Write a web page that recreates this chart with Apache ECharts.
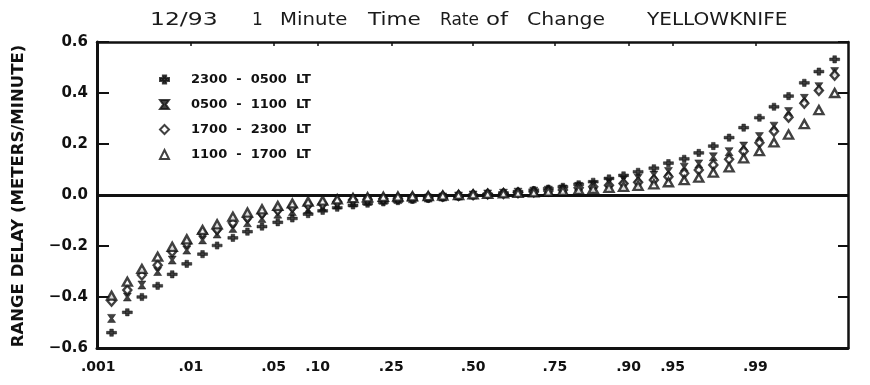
<!DOCTYPE html>
<html>
<head>
<meta charset="utf-8">
<script src="https://cdn.jsdelivr.net/npm/echarts@6/dist/echarts.min.js"></script>
<style>
  html, body { margin: 0; padding: 0; background: #fff; }
  #chart { width: 870px; height: 385px; }
</style>
</head>
<body>
<div id="chart"></div>
<script>
// Time-of-day bands (local time)
const bands = ['2300 - 0500 LT', '0500 - 1100 LT', '1700 - 2300 LT', '1100 - 1700 LT'];

// Cumulative probability ticks on the normal-probability axis
const tickProbs = [0.001, 0.01, 0.05, 0.10, 0.25, 0.50, 0.75, 0.90, 0.95, 0.99, 0.999];
const tickLabels = ['.001', '.01', '.05', '.10', '.25', '.50', '.75', '.90', '.95', '.99', '3 9 9'];

// Plotting positions of the ordered samples, in standard normal units
const normalScore = [
  -2.98, -2.85, -2.73, -2.60, -2.48, -2.36, -2.23, -2.11, -1.98, -1.86,
  -1.74, -1.61, -1.49, -1.36, -1.24, -1.12, -0.99, -0.87, -0.74, -0.62,
  -0.50, -0.37, -0.25, -0.12, 0.00, 0.12, 0.25, 0.37, 0.50, 0.62,
  0.74, 0.87, 0.99, 1.12, 1.24, 1.36, 1.49, 1.61, 1.74, 1.86,
  1.98, 2.11, 2.23, 2.36, 2.48, 2.60, 2.73, 2.85, 2.98
];

// Range-delay rate of change (meters/minute), ordered, per band
const night = [
  -0.540, -0.460, -0.400, -0.356, -0.311, -0.270, -0.232, -0.198, -0.168, -0.144,
  -0.124, -0.107, -0.092, -0.075, -0.062, -0.050, -0.041, -0.034, -0.029, -0.024,
  -0.019, -0.015, -0.010, -0.006, -0.002, 0.003, 0.008, 0.013, 0.019, 0.025,
  0.032, 0.042, 0.052, 0.065, 0.077, 0.091, 0.105, 0.125, 0.142, 0.165,
  0.192, 0.225, 0.264, 0.303, 0.346, 0.388, 0.440, 0.484, 0.532
];
const morning = [
  -0.484, -0.400, -0.353, -0.300, -0.255, -0.216, -0.176, -0.153, -0.131, -0.109,
  -0.092, -0.075, -0.065, -0.056, -0.048, -0.039, -0.031, -0.025, -0.021, -0.018,
  -0.015, -0.012, -0.008, -0.004, 0.000, 0.004, 0.007, 0.011, 0.015, 0.019,
  0.024, 0.034, 0.040, 0.050, 0.060, 0.066, 0.078, 0.092, 0.109, 0.122,
  0.150, 0.170, 0.192, 0.229, 0.270, 0.327, 0.379, 0.425, 0.484
];
const evening = [
  -0.416, -0.373, -0.314, -0.275, -0.222, -0.190, -0.150, -0.135, -0.109, -0.088,
  -0.072, -0.059, -0.048, -0.039, -0.035, -0.027, -0.020, -0.017, -0.015, -0.013,
  -0.010, -0.008, -0.005, -0.002, 0.001, 0.004, 0.006, 0.009, 0.012, 0.016,
  0.020, 0.028, 0.032, 0.038, 0.045, 0.050, 0.059, 0.072, 0.085, 0.098,
  0.118, 0.140, 0.172, 0.205, 0.250, 0.305, 0.360, 0.410, 0.470
];
const afternoon = [
  -0.395, -0.340, -0.290, -0.242, -0.203, -0.174, -0.137, -0.115, -0.085, -0.069,
  -0.056, -0.043, -0.033, -0.026, -0.022, -0.017, -0.012, -0.009, -0.007, -0.006,
  -0.005, -0.004, -0.002, 0.000, 0.002, 0.004, 0.006, 0.008, 0.010, 0.013,
  0.016, 0.020, 0.024, 0.028, 0.032, 0.036, 0.042, 0.050, 0.058, 0.068,
  0.088, 0.108, 0.144, 0.172, 0.206, 0.237, 0.278, 0.333, 0.400
];

// Inverse of the standard normal CDF (Acklam's rational approximation)
function probit(p) {
  const a = [-39.69683028665376, 220.9460984245205, -275.9285104469687, 138.3577518672690, -30.66479806614716, 2.506628277459239];
  const b = [-54.47609879822406, 161.5858368580409, -155.6989798598866, 66.80131188771972, -13.28068155288572];
  const c = [-0.007784894002430293, -0.3223964580411365, -2.400758277161838, -2.549732539343734, 4.374664141464968, 2.938163982698783];
  const d = [0.007784695709041462, 0.3224671290700398, 2.445134137142996, 3.754408661907416];
  const pl = 0.02425;
  let q, r;
  if (p < pl) {
    q = Math.sqrt(-2 * Math.log(p));
    return (((((c[0]*q+c[1])*q+c[2])*q+c[3])*q+c[4])*q+c[5]) / ((((d[0]*q+d[1])*q+d[2])*q+d[3])*q+1);
  }
  if (p > 1 - pl) {
    q = Math.sqrt(-2 * Math.log(1 - p));
    return -(((((c[0]*q+c[1])*q+c[2])*q+c[3])*q+c[4])*q+c[5]) / ((((d[0]*q+d[1])*q+d[2])*q+d[3])*q+1);
  }
  q = p - 0.5; r = q * q;
  return (((((a[0]*r+a[1])*r+a[2])*r+a[3])*r+a[4])*r+a[5])*q / (((((b[0]*r+b[1])*r+b[2])*r+b[3])*r+b[4])*r+1);
}

const tickZ = tickProbs.map(probit);
const labelFor = {};
tickZ.forEach((z, i) => { labelFor[z.toFixed(6)] = tickLabels[i]; });
const innerTickZ = tickZ.slice(1, -1);

const INK = '#111';
const markers = [
  { symbol: 'path://M0,2.8L10,2.8L10,6.2L0,6.2Z M3.2,0L6.8,0L6.8,9L3.2,9Z', size: [10, 8], hollow: false },
  { symbol: 'path://M0,0L10,0L6.5,5L10,10L0,10L3.5,5Z', size: [8, 8], hollow: false },
  { symbol: 'diamond', size: [8, 9], hollow: true },
  { symbol: 'triangle', size: [9, 8], hollow: true }
];
const bandData = [night, morning, evening, afternoon];

const series = bands.map((name, i) => {
  const m = markers[i];
  const s = {
    name: name,
    type: 'scatter',
    symbol: m.symbol,
    symbolSize: m.size,
    symbolKeepAspect: true,
    z: 3 + i,
    itemStyle: m.hollow
      ? { color: '#fff', borderColor: INK, borderWidth: 2.4 }
      : { color: INK, borderColor: INK, borderWidth: 0.6 },
    emphasis: { disabled: true },
    data: normalScore.map((z, k) => [z, bandData[i][k]])
  };
  if (i === 0) {
    s.markLine = {
      silent: true,
      symbol: 'none',
      label: { show: false },
      lineStyle: { color: INK, width: 3, type: 'solid' },
      data: [{ yAxis: 0 }],
      z: 1
    };
  }
  return s;
});

const chart = echarts.init(document.getElementById('chart'), null, { renderer: 'canvas' });

// Title words placed individually to keep the typewriter-like spacing
const titleWords = [
  { t: '12/93', x: 150, sx: 1.38 },
  { t: '1', x: 252, sx: 1.0 },
  { t: 'Minute', x: 280, sx: 1.16 },
  { t: 'Time', x: 368, sx: 1.27 },
  { t: 'Rate', x: 440, sx: 1.0 },
  { t: 'of', x: 486, sx: 1.35 },
  { t: 'Change', x: 527, sx: 1.2 },
  { t: 'YELLOWKNIFE', x: 647, sx: 1.18 }
];

const option = {
  backgroundColor: '#fff',
  animation: false,
  grid: { left: 97, right: 22, top: 42, bottom: 37, containLabel: false },
  legend: {
    orient: 'vertical',
    left: 154,
    top: 67,
    itemWidth: 9,
    itemHeight: 9,
    itemGap: 10,
    selectedMode: false,
    data: bands,
    formatter: name => name.split(' ').join('  '),
    textStyle: {
      color: INK,
      fontFamily: 'DejaVu Sans',
      fontWeight: 'bold',
      fontSize: 13,
      lineHeight: 15,
      padding: [0, 0, 0, 17]
    }
  },
  xAxis: [
    {
      type: 'value',
      position: 'bottom',
      min: -3.10,
      max: 3.09,
      splitLine: { show: false },
      axisLine: { show: true, onZero: false, lineStyle: { color: INK, width: 3 } },
      axisTick: { show: false },
      axisLabel: {
        customValues: tickZ,
        margin: 12,
        color: INK,
        fontFamily: 'DejaVu Sans',
        fontWeight: 'bold',
        fontSize: 14,
        formatter: v => {
          const s = labelFor[Number(v).toFixed(6)] || '';
          return s === '3 9 9' ? '{n|' + s + '}' : s;
        },
        rich: { n: { fontFamily: 'DejaVu Sans', fontWeight: 'normal', fontSize: 14, color: INK } }
      }
    },
    {
      type: 'value',
      position: 'top',
      min: -3.10,
      max: 3.09,
      splitLine: { show: false },
      axisLine: { show: true, onZero: false, lineStyle: { color: INK, width: 2.5 } },
      axisTick: { show: true, inside: true, length: 4, customValues: innerTickZ, lineStyle: { color: INK, width: 1.5 } },
      axisLabel: { show: false }
    }
  ],
  yAxis: [
    {
      type: 'value',
      position: 'left',
      min: -0.6,
      max: 0.6,
      interval: 0.2,
      splitLine: { show: false },
      axisLine: { show: true, onZero: false, lineStyle: { color: INK, width: 3 } },
      axisTick: { show: true, inside: true, length: 12, lineStyle: { color: INK, width: 2 } },
      axisLabel: {
        margin: 9,
        color: INK,
        fontFamily: 'DejaVu Sans',
        fontWeight: 'bold',
        fontSize: 15,
        formatter: v => (v < 0 ? '\u2212' : '') + Math.abs(v).toFixed(1)
      }
    },
    {
      type: 'value',
      position: 'right',
      min: -0.6,
      max: 0.6,
      interval: 0.2,
      splitLine: { show: false },
      axisLine: { show: true, onZero: false, lineStyle: { color: INK, width: 2.5 } },
      axisTick: { show: true, inside: true, length: 10, lineStyle: { color: INK, width: 2 } },
      axisLabel: { show: false }
    }
  ],
  graphic: [
    ...titleWords.map(w => ({
      type: 'text',
      x: w.x,
      y: 21,
      scaleX: w.sx,
      silent: true,
      style: {
        text: w.t,
        fill: '#1a1a1a',
        font: '17px "DejaVu Sans"',
        textAlign: 'left',
        textVerticalAlign: 'middle'
      }
    })),
    {
      type: 'text',
      x: 19,
      y: 196,
      rotation: Math.PI / 2,
      scaleX: 1.1,
      silent: true,
      style: {
        text: 'RANGE DELAY (METERS/MINUTE)',
        fill: INK,
        font: 'bold 15px "DejaVu Sans"',
        textAlign: 'center',
        textVerticalAlign: 'middle'
      }
    }
  ],
  series: series
};

chart.setOption(option);
</script>
</body>
</html>
